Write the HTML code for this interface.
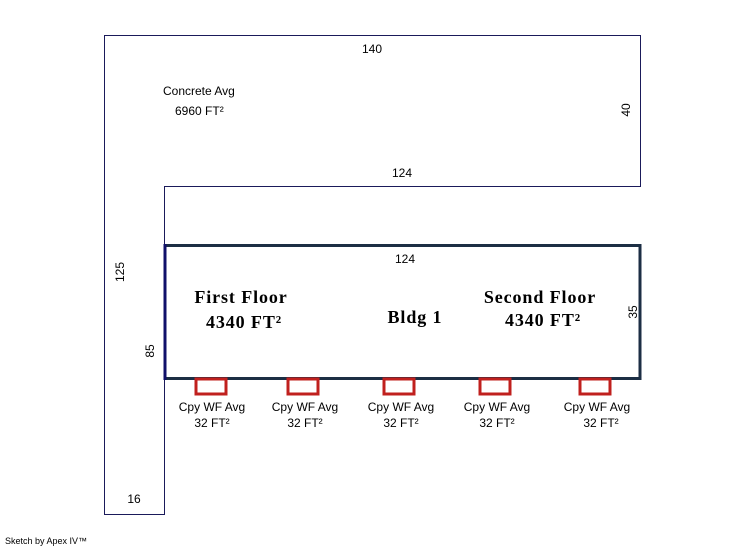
<!DOCTYPE html>
<html><head><meta charset="utf-8"><style>
html,body{margin:0;padding:0;background:#fff;}
svg{display:block}
.d{font-family:"Liberation Sans",Arial,sans-serif;font-size:12px;fill:#000}
.b{font-family:"Liberation Serif",serif;font-weight:bold;font-size:18px;letter-spacing:0.9px;fill:#000}
</style></head><body>
<svg width="746" height="547" viewBox="0 0 746 547" xmlns="http://www.w3.org/2000/svg">
<polygon points="104.5,35.5 640.5,35.5 640.5,186.5 164.5,186.5 164.5,514.5 104.5,514.5" fill="none" stroke="#1a1a5a" stroke-width="1"/>
<rect x="165" y="245.5" width="475" height="133" fill="#fff" stroke="#1c2e44" stroke-width="3"/>
<line x1="165" y1="244" x2="165" y2="380" stroke="#10106a" stroke-width="3"/>
<g fill="none" stroke="#c0201e" stroke-width="3">
<rect x="196" y="379" width="30" height="15"/>
<rect x="288" y="379" width="30" height="15"/>
<rect x="384" y="379" width="30" height="15"/>
<rect x="480" y="379" width="30" height="15"/>
<rect x="580" y="379" width="30" height="15"/>
</g>
<text class="d" x="372" y="53" text-anchor="middle">140</text>
<text class="d" x="163" y="95">Concrete Avg</text>
<text class="d" x="175" y="115">6960 FT²</text>
<text class="d" x="402" y="177" text-anchor="middle">124</text>
<text class="d" x="405" y="263" text-anchor="middle">124</text>
<text class="d" transform="translate(630,110) rotate(-90)" text-anchor="middle">40</text>
<text class="d" transform="translate(637,312) rotate(-90)" text-anchor="middle">35</text>
<text class="d" transform="translate(124,272) rotate(-90)" text-anchor="middle">125</text>
<text class="d" transform="translate(154,351) rotate(-90)" text-anchor="middle">85</text>
<text class="d" x="134" y="503" text-anchor="middle">16</text>
<text class="b" x="241" y="303" text-anchor="middle">First Floor</text>
<text class="b" x="244" y="328" text-anchor="middle">4340 FT²</text>
<text class="b" x="415" y="323" text-anchor="middle">Bldg 1</text>
<text class="b" x="540" y="303" text-anchor="middle">Second Floor</text>
<text class="b" x="543" y="326" text-anchor="middle">4340 FT²</text>
<g class="d" text-anchor="middle">
<text class="d" x="212" y="411">Cpy WF Avg</text><text class="d" x="212" y="427">32 FT²</text>
<text class="d" x="305" y="411">Cpy WF Avg</text><text class="d" x="305" y="427">32 FT²</text>
<text class="d" x="401" y="411">Cpy WF Avg</text><text class="d" x="401" y="427">32 FT²</text>
<text class="d" x="497" y="411">Cpy WF Avg</text><text class="d" x="497" y="427">32 FT²</text>
<text class="d" x="597" y="411">Cpy WF Avg</text><text class="d" x="601" y="427">32 FT²</text>
</g>
<text x="5" y="544" style="font-family:'Liberation Sans',Arial,sans-serif;font-size:9px">Sketch by Apex IV™</text>
</svg>
</body></html>
